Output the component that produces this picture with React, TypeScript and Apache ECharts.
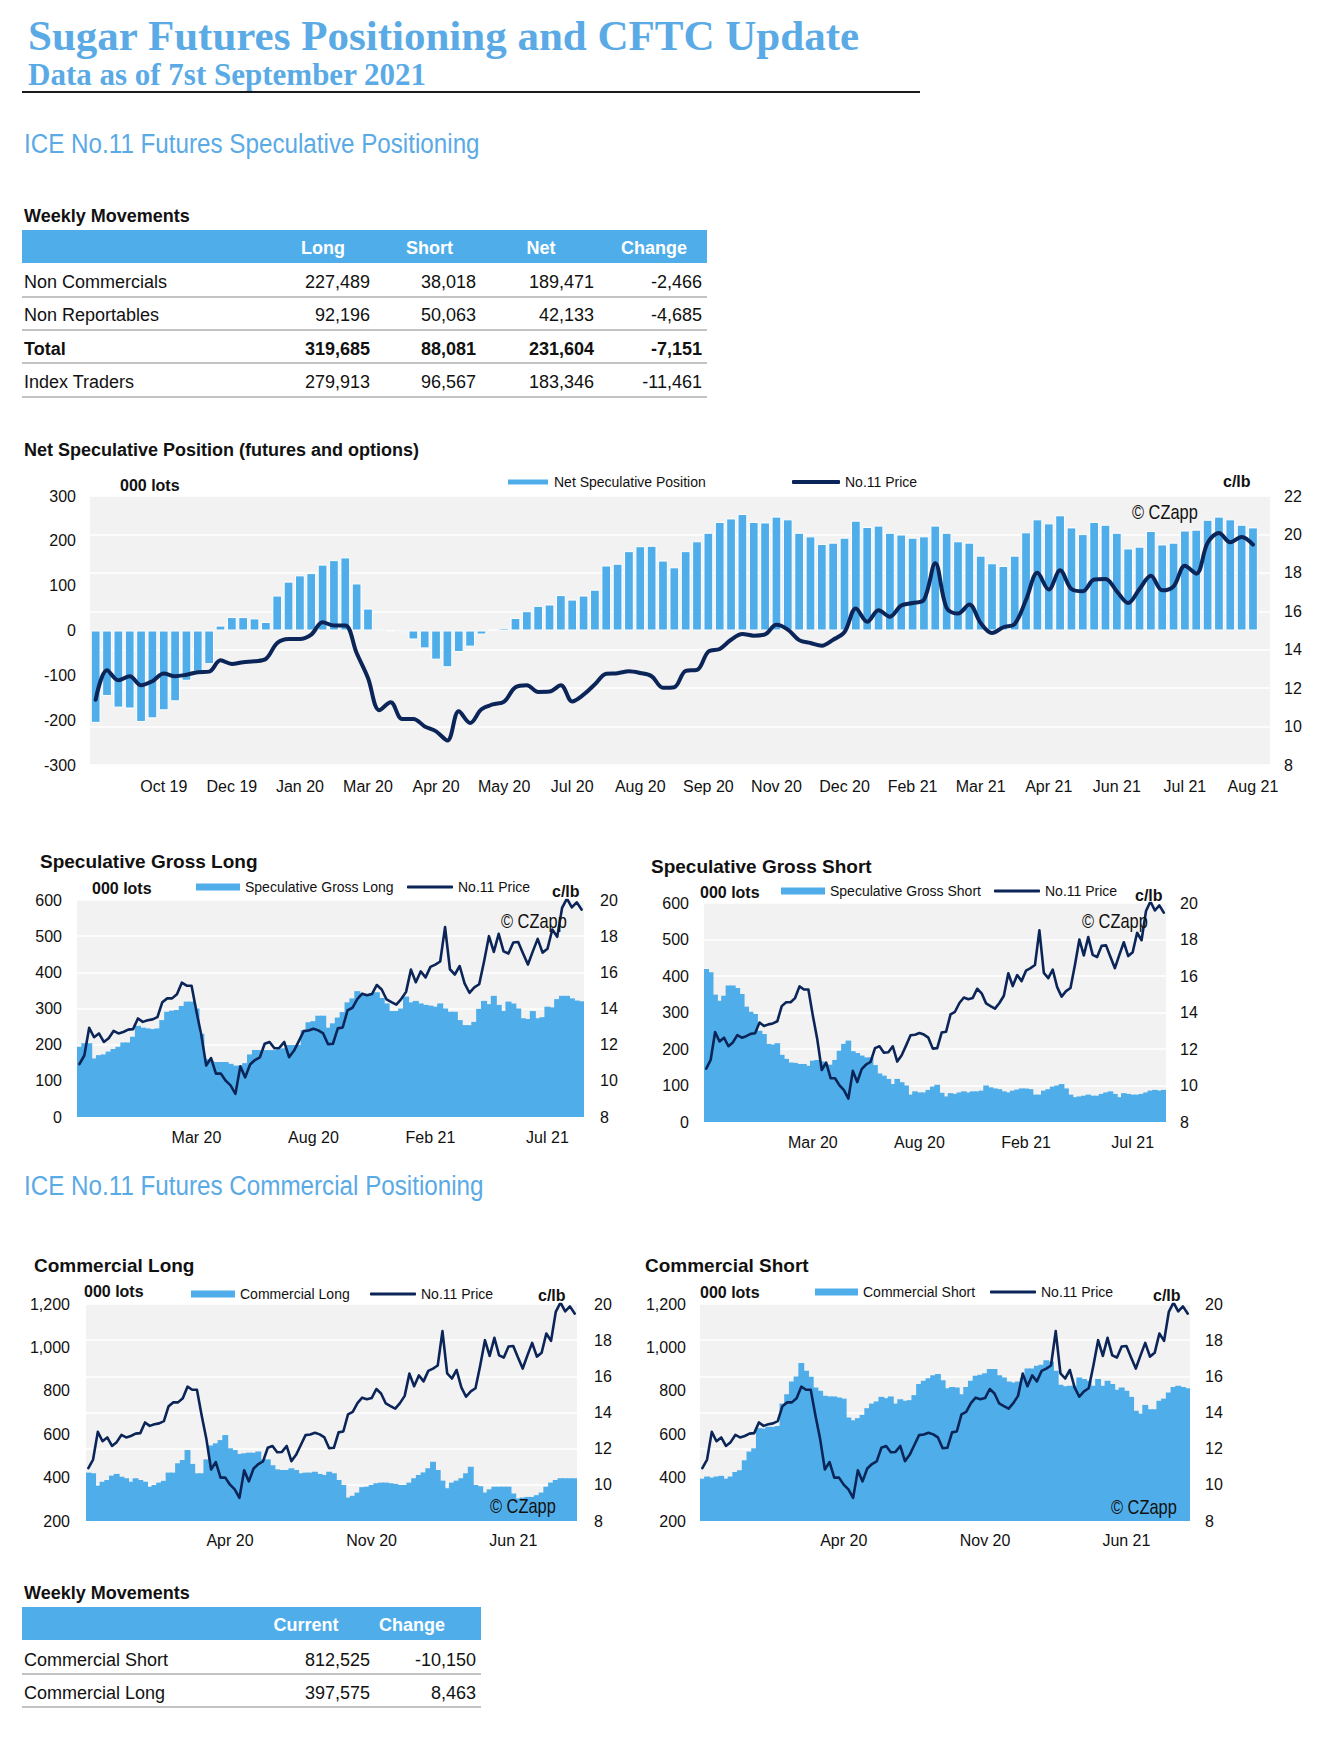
import React, { useEffect, useRef } from "react";
import * as echarts from "echarts";

// ---------------- DATA ----------------
// Net speculative position (000 lots), weekly, first bar = week after the first price week
const netSpecPosition = [
  -206, -146, -172, -174, -204, -196, -178, -158, -112, -92,
  -75, 11, 30, 30, 27, 19, 78, 109, 123, 128,
  147, 157, 163, 105, 49, 4, -1, -4, -20, -40,
  -65, -82, -48, -36, -9, 2, 6, 28, 43, 55,
  58, 79, 69, 78, 91, 145, 149, 177, 188, 189,
  156, 141, 177, 199, 218, 242, 250, 260, 242, 241,
  254, 248, 218, 210, 193, 196, 207, 245, 231, 234,
  218, 214, 207, 210, 234, 218, 199, 196, 167, 150,
  144, 167, 219, 248, 239, 257, 230, 215, 242, 236,
  218, 183, 187, 222, 192, 196, 223, 225, 247, 254,
  248, 236, 230,
];

// No.11 price (c/lb), weekly (104 weeks)
const no11Price = [
  10.93,
  11.4, 12.93, 12.41, 12.62, 12.15, 12.36, 12.76, 12.62, 12.7, 12.83,
  12.86, 13.45, 13.26, 13.35, 13.4, 13.52, 14.35, 14.56, 14.56, 14.79,
  15.43, 15.26, 15.26, 13.83, 12.53, 10.85, 11.26, 10.4, 10.4, 10.01,
  9.75, 9.28, 10.8, 10.19, 10.9, 11.15, 11.3, 12.05, 12.15, 11.8,
  11.82, 12.15, 11.31, 11.66, 12.2, 12.75, 12.78, 12.88, 12.79, 12.62,
  12.02, 12.05, 12.9, 12.95, 13.9, 14.04, 14.52, 14.82, 14.73, 14.8,
  15.3, 15.05, 14.5, 14.35, 14.21, 14.52, 14.92, 16.15, 15.45, 16.05,
  15.72, 16.3, 16.43, 16.6, 18.5, 16.17, 15.88, 16.35, 15.39, 14.87,
  15.17, 15.34, 16.6, 18.0, 17.13, 18.13, 17.16, 17.04, 17.65, 17.68,
  17.04, 16.43, 17.16, 17.85, 17.09, 17.3, 18.37, 17.96, 19.56, 20.08,
  19.59, 19.87, 19.47,
];

const specGrossLong = [
  194, 204, 204, 162, 171, 173, 181, 188, 194, 206,
  206, 222, 252, 247, 245, 243, 245, 268, 291, 294,
  296, 307, 319, 319, 300, 230, 160, 155, 152, 152,
  152, 147, 142, 142, 149, 173, 185, 185, 185, 185,
  185, 188, 190, 199, 199, 199, 240, 262, 265, 280,
  280, 247, 259, 275, 290, 317, 328, 348, 339, 337,
  343, 345, 329, 314, 293, 293, 300, 333, 317, 321,
  314, 310, 308, 305, 314, 300, 291, 291, 268, 254,
  254, 263, 299, 321, 312, 335, 310, 293, 319, 314,
  300, 273, 271, 293, 273, 276, 305, 303, 326, 335,
  335, 328, 322, 320,
];

const specGrossShort = [
  419, 410, 349, 332, 346, 374, 374, 367, 351, 316,
  302, 296, 250, 241, 214, 212, 216, 184, 173, 163,
  162, 159, 159, 154, 168, 170, 166, 157, 157, 170,
  195, 214, 223, 194, 189, 182, 177, 177, 156, 133,
  127, 118, 104, 118, 109, 100, 75, 84, 81, 81,
  88, 97, 102, 80, 70, 79, 77, 81, 84, 81,
  84, 84, 86, 100, 95, 92, 90, 84, 81, 86,
  89, 92, 92, 90, 75, 75, 86, 90, 97, 100,
  104, 92, 75, 68, 70, 72, 75, 72, 72, 77,
  81, 84, 77, 68, 79, 77, 75, 75, 77, 81,
  86, 88, 86, 88,
];

const commercialLong = [
  423, 420, 363, 381, 389, 409, 417, 404, 397, 381,
  397, 389, 381, 358, 366, 377, 385, 423, 423, 466,
  481, 527, 463, 420, 420, 484, 548, 558, 573, 596,
  535, 527, 509, 512, 515, 515, 520, 484, 484, 457,
  438, 435, 435, 443, 435, 420, 423, 423, 427, 417,
  412, 427, 420, 389, 366, 308, 316, 331, 356, 358,
  366, 374, 377, 377, 374, 371, 366, 366, 377, 397,
  412, 424, 443, 473, 435, 386, 351, 377, 386, 397,
  420, 450, 366, 360, 331, 346, 358, 358, 358, 358,
  327, 304, 308, 311, 311, 319, 331, 358, 377, 389,
  397, 397, 397, 397,
];

const commercialShort = [
  395, 405, 400, 405, 408, 395, 405, 426, 434, 480,
  520, 535, 628, 626, 634, 634, 638, 741, 784, 843,
  866, 928, 892, 865, 815, 800, 777, 774, 774, 769,
  764, 677, 664, 674, 689, 720, 741, 751, 772, 766,
  774, 741, 761, 754, 757, 780, 831, 846, 858, 872,
  877, 849, 812, 818, 815, 784, 818, 846, 869, 874,
  881, 900, 900, 872, 861, 843, 838, 843, 858, 903,
  903, 915, 920, 941, 935, 892, 828, 821, 823, 823,
  861, 854, 846, 823, 854, 823, 846, 831, 805, 815,
  800, 772, 708, 695, 735, 715, 715, 754, 764, 792,
  818, 823, 818, 812,
];

// Tick labels
const mainTickLabels = [
  "Oct 19", "Dec 19", "Jan 20", "Mar 20", "Apr 20", "May 20", "Jul 20", "Aug 20", "Sep 20",
  "Nov 20", "Dec 20", "Feb 21", "Mar 21", "Apr 21", "Jun 21", "Jul 21", "Aug 21",
];
const specTickLabels = ["Mar 20", "Aug 20", "Feb 21", "Jul 21"];
const commTickLabels = ["Apr 20", "Nov 20", "Jun 21"];

// Tables
const specTableHeader = ["Long", "Short", "Net", "Change"];
const specTableRows = ["Non Commercials", "Non Reportables", "Total", "Index Traders"];
const specLong = [227489, 92196, 319685, 279913];
const specShort = [38018, 50063, 88081, 96567];
const specNet = [189471, 42133, 231604, 183346];
const specChange = [-2466, -4685, -7151, -11461];

const commTableHeader = ["Current", "Change"];
const commTableRows = ["Commercial Short", "Commercial Long"];
const commCurrent = [812525, 397575];
const commChange = [-10150, 8463];

// weekly categories
function weeklyDates(start: string, count: number): string[] {
  const t0 = Date.parse(start + "T00:00:00Z");
  const out: string[] = [];
  for (let i = 0; i < count; i++) out.push(new Date(t0 + i * 7 * 86400000).toISOString().slice(0, 10));
  return out;
}
const positionWeeks = weeklyDates("2019-09-17", 104);
const netWeeks = weeklyDates("2019-09-24", 104);

// ---------------- STYLE ----------------
const SANS = '"Liberation Sans", Arial, Helvetica, sans-serif';
const SERIF = '"Liberation Serif", "Times New Roman", serif';
const BLUE = "#4FAEEA";
const NAVY = "#0B2558";
const TITLE_BLUE = "#5AAAE6";
const INK = "#111111";
const PLOT_BG = "#F2F2F2";
const RULE_GREY = "#C3C3C3";

const fmt = (v: number) => v.toLocaleString("en-US");

type TOpts = { size?: number; weight?: string; color?: string; align?: string; family?: string; scaleX?: number };
function text(x: number, y: number, t: string, o: TOpts = {}) {
  const align = o.align ?? "left";
  return {
    type: "text",
    x,
    y,
    scaleX: o.scaleX ?? 1,
    silent: true,
    style: {
      text: t,
      fill: o.color ?? INK,
      fontSize: o.size ?? 18,
      fontWeight: o.weight ?? "normal",
      fontFamily: o.family ?? SANS,
      textAlign: align,
      align,
      textVerticalAlign: "middle",
      verticalAlign: "middle",
    },
  };
}
function rect(x: number, y: number, w: number, h: number, fill: string) {
  return { type: "rect", silent: true, shape: { x, y, width: w, height: h }, style: { fill } };
}

function xAxis(gridIndex: number, data: string[], labels: string[], first: number, step: number, margin: number) {
  return {
    type: "category",
    gridIndex,
    data,
    boundaryGap: true,
    axisLine: { show: false },
    axisTick: { show: false },
    splitLine: { show: false },
    axisLabel: {
      interval: (i: number) => i >= first && (i - first) % step === 0 && (i - first) / step < labels.length,
      formatter: (_v: string, i: number) => labels[(i - first) / step] ?? "",
      margin,
      fontSize: 16,
      color: INK,
      fontFamily: SANS,
    },
  };
}
function yLeft(gridIndex: number, min: number, max: number, interval: number, margin: number, comma = false) {
  return {
    type: "value",
    gridIndex,
    position: "left",
    min,
    max,
    interval,
    splitLine: { show: false },
    axisLine: { show: false },
    axisTick: { show: false },
    axisLabel: {
      margin,
      fontSize: 16,
      color: INK,
      fontFamily: SANS,
      formatter: (v: number) => (comma ? fmt(v) : String(v)),
    },
  };
}
function yRight(gridIndex: number, min: number, max: number, margin: number) {
  return {
    type: "value",
    gridIndex,
    position: "right",
    min,
    max,
    interval: 2,
    splitLine: { show: true, lineStyle: { color: "#FFFFFF", width: 1.5 } },
    axisLine: { show: false },
    axisTick: { show: false },
    axisLabel: { margin, fontSize: 16, color: INK, fontFamily: SANS },
  };
}
function legend(name: string, left: number, cy: number, w: number, h: number, icon: string) {
  return {
    data: [name],
    left,
    top: cy - 7,
    padding: 0,
    itemGap: 0,
    itemWidth: w,
    itemHeight: h,
    icon,
    selectedMode: false,
    textStyle: { fontSize: 14, color: INK, fontFamily: SANS },
  };
}
// stepped area drawn as touching columns; slightly wider than the band so no seams show
function areaBars(name: string, data: number[], xi: number, yi: number, plotWidth: number) {
  return {
    type: "bar",
    name,
    xAxisIndex: xi,
    yAxisIndex: yi,
    data,
    barWidth: plotWidth / data.length + 1.2,
    silent: true,
    itemStyle: { color: BLUE },
  };
}
function priceLine(data: (number | null)[], xi: number, yi: number, width: number, smooth: number | boolean) {
  return {
    type: "line",
    name: "No.11 Price",
    xAxisIndex: xi,
    yAxisIndex: yi,
    data,
    smooth,
    symbol: "none",
    silent: true,
    z: 5,
    itemStyle: { color: NAVY },
    lineStyle: { color: NAVY, width, cap: "round", join: "round" },
  };
}

function buildOption() {
  const g: any[] = [];
  // Page titles
  g.push(text(28, 35, "Sugar Futures Positioning and CFTC Update", { size: 43, weight: "bold", family: SERIF, color: TITLE_BLUE }));
  g.push(text(28, 74, "Data as of 7st September 2021", { size: 31, weight: "bold", family: SERIF, color: TITLE_BLUE }));
  g.push(rect(22, 91, 898, 2, "#1A1A1A"));
  g.push(text(24, 143, "ICE No.11 Futures Speculative Positioning", { size: 28, color: TITLE_BLUE, scaleX: 0.865 }));
  g.push(text(24, 1185, "ICE No.11 Futures Commercial Positioning", { size: 28, color: TITLE_BLUE, scaleX: 0.865 }));

  // Table 1
  g.push(text(24, 215.5, "Weekly Movements", { size: 18, weight: "bold" }));
  g.push(rect(22, 230, 685, 33, BLUE));
  const hdrCenters = [323, 429.5, 541, 654];
  specTableHeader.forEach((h, i) => g.push(text(hdrCenters[i], 248, h, { size: 18, weight: "bold", color: "#FFFFFF", align: "center" })));
  const rowY = [282, 315, 349, 382];
  const sepY = [296, 329, 362, 396];
  const numRight = [370, 476, 594, 702];
  specTableRows.forEach((r, i) => {
    const w = r === "Total" ? "bold" : "normal";
    g.push(text(24, rowY[i], r, { size: 18, weight: w }));
    [specLong[i], specShort[i], specNet[i], specChange[i]].forEach((v, j) =>
      g.push(text(numRight[j], rowY[i], fmt(v), { size: 18, weight: w, align: "right" }))
    );
    g.push(rect(22, sepY[i], 685, 2, RULE_GREY));
  });

  // Table 2
  g.push(text(24, 1593, "Weekly Movements", { size: 18, weight: "bold" }));
  g.push(rect(22, 1607, 459, 33, BLUE));
  const hdr2 = [306, 412];
  commTableHeader.forEach((h, i) => g.push(text(hdr2[i], 1625, h, { size: 18, weight: "bold", color: "#FFFFFF", align: "center" })));
  const row2Y = [1660, 1693];
  const sep2Y = [1673, 1706];
  commTableRows.forEach((r, i) => {
    g.push(text(24, row2Y[i], r, { size: 18 }));
    g.push(text(370, row2Y[i], fmt(commCurrent[i]), { size: 18, align: "right" }));
    g.push(text(476, row2Y[i], fmt(commChange[i]), { size: 18, align: "right" }));
    g.push(rect(22, sep2Y[i], 459, 2, RULE_GREY));
  });

  // Chart titles and annotations
  g.push(text(24, 450, "Net Speculative Position (futures and options)", { size: 18, weight: "bold" }));
  g.push(text(120, 485, "000 lots", { size: 16, weight: "bold" }));
  g.push(text(1223, 481, "c/lb", { size: 16, weight: "bold" }));
  g.push(text(1132, 512, "© CZapp", { size: 20, scaleX: 0.82 }));

  g.push(text(40, 861, "Speculative Gross Long", { size: 19, weight: "bold" }));
  g.push(text(92, 888, "000 lots", { size: 16, weight: "bold" }));
  g.push(text(552, 891, "c/lb", { size: 16, weight: "bold" }));

  g.push(text(651, 866, "Speculative Gross Short", { size: 19, weight: "bold" }));
  g.push(text(700, 892, "000 lots", { size: 16, weight: "bold" }));
  g.push(text(1135, 895, "c/lb", { size: 16, weight: "bold" }));

  g.push(text(34, 1265, "Commercial Long", { size: 19, weight: "bold" }));
  g.push(text(84, 1291, "000 lots", { size: 16, weight: "bold" }));
  g.push(text(538, 1295, "c/lb", { size: 16, weight: "bold" }));

  g.push(text(645, 1265, "Commercial Short", { size: 19, weight: "bold" }));
  g.push(text(700, 1292, "000 lots", { size: 16, weight: "bold" }));
  g.push(text(1153, 1295, "c/lb", { size: 16, weight: "bold" }));

  const gridBase = { show: true, backgroundColor: PLOT_BG, borderWidth: 0, containLabel: false };
  const gridBoxes = [
    { left: 90, top: 496, width: 1180, height: 269 },
    { left: 77, top: 900, width: 507, height: 217 },
    { left: 704, top: 903, width: 462, height: 219 },
    { left: 86, top: 1304, width: 491, height: 217 },
    { left: 700, top: 1304, width: 490, height: 217 },
  ];
  const grids = gridBoxes.map((gr) => ({ ...gridBase, ...gr }));

  // copyright marks over charts (drawn above series)
  const top: any[] = [
    text(501, 921, "© CZapp", { size: 20, scaleX: 0.82 }),
    text(1082, 921, "© CZapp", { size: 20, scaleX: 0.82 }),
    text(490, 1506, "© CZapp", { size: 20, scaleX: 0.82 }),
    text(1111, 1507, "© CZapp", { size: 20, scaleX: 0.82 }),
  ].map((e) => ({ ...e, z: 100 }));

  return {
    animation: false,
    backgroundColor: "#FFFFFF",
    textStyle: { fontFamily: SANS },
    grid: grids,
    xAxis: [
      xAxis(0, netWeeks, mainTickLabels, 6, 6, 13),
      xAxis(1, positionWeeks, specTickLabels, 24, 24, 12),
      xAxis(2, positionWeeks, specTickLabels, 24, 24, 12),
      xAxis(3, positionWeeks, commTickLabels, 30, 30, 11),
      xAxis(4, positionWeeks, commTickLabels, 30, 30, 11),
    ],
    yAxis: [
      yLeft(0, -300, 300, 100, 14),
      yRight(0, 8, 22, 14),
      yLeft(1, 0, 600, 100, 15),
      yRight(1, 8, 20, 16),
      yLeft(2, 0, 600, 100, 15),
      yRight(2, 8, 20, 14),
      yLeft(3, 200, 1200, 200, 16, true),
      yRight(3, 8, 20, 17),
      yLeft(4, 200, 1200, 200, 14, true),
      yRight(4, 8, 20, 15),
    ],
    legend: [
      legend("Net Speculative Position", 506, 482, 42, 7, "rect"),
      legend("No.11 Price", 792, 482, 48, 4, "roundRect"),
      legend("Speculative Gross Long", 196, 887, 44, 7, "rect"),
      legend("No.11 Price", 407, 887, 46, 3, "roundRect"),
      legend("Speculative Gross Short", 781, 891, 44, 7, "rect"),
      legend("No.11 Price", 994, 891, 46, 3, "roundRect"),
      legend("Commercial Long", 191, 1294, 44, 7, "rect"),
      legend("No.11 Price", 370, 1294, 46, 3, "roundRect"),
      legend("Commercial Short", 815, 1292, 43, 7, "rect"),
      legend("No.11 Price", 990, 1292, 46, 3, "roundRect"),
    ],
    series: [
      {
        type: "bar",
        name: "Net Speculative Position",
        xAxisIndex: 0,
        yAxisIndex: 0,
        data: netSpecPosition,
        barCategoryGap: "14%",
        silent: true,
        itemStyle: { color: BLUE, borderColor: "#FFFFFF", borderWidth: 1 },
      },
      priceLine(no11Price.slice(1), 0, 1, 4, 0.35),
      areaBars("Speculative Gross Long", specGrossLong, 1, 2, gridBoxes[1].width),
      priceLine(no11Price, 1, 3, 2.6, false),
      areaBars("Speculative Gross Short", specGrossShort, 2, 4, gridBoxes[2].width),
      priceLine(no11Price, 2, 5, 2.6, false),
      areaBars("Commercial Long", commercialLong, 3, 6, gridBoxes[3].width),
      priceLine(no11Price, 3, 7, 2.6, false),
      areaBars("Commercial Short", commercialShort, 4, 8, gridBoxes[4].width),
      priceLine(no11Price, 4, 9, 2.6, false),
    ],
    graphic: { elements: [...g, ...top] },
  };
}

export default function App() {
  const ref = useRef<HTMLDivElement>(null);
  useEffect(() => {
    if (!ref.current) return;
    const chart = echarts.init(ref.current, undefined, { renderer: "svg", width: 1342, height: 1742 });
    chart.setOption(buildOption() as any);
    return () => chart.dispose();
  }, []);
  return (
    <div
      ref={ref}
      style={{ position: "absolute", left: 0, top: 0, width: 1342, height: 1742, background: "#FFFFFF" }}
    />
  );
}
